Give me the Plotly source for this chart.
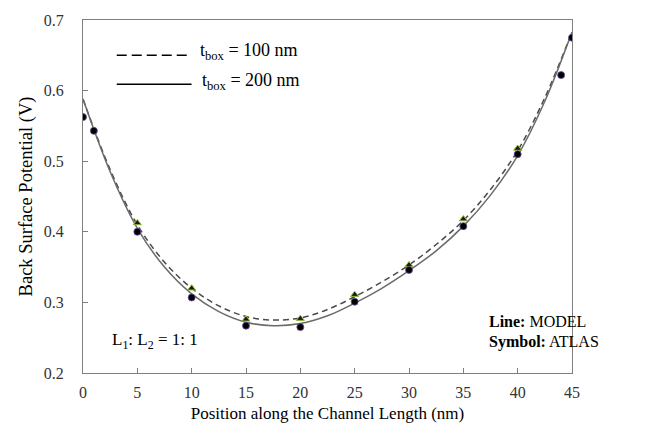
import plotly.graph_objects as go

# Model curves (lines)
x_model = [0, 2.5, 5, 7.5, 10, 12.5, 15, 17.5, 20, 22.5, 25, 27.5, 30, 32.5, 35, 37.5, 40, 42.5, 45]
model_100 = [0.588, 0.488, 0.410, 0.357, 0.320, 0.295, 0.280, 0.275, 0.278, 0.290, 0.308, 0.329,
             0.353, 0.382, 0.416, 0.460, 0.515, 0.590, 0.683]
model_200 = [0.588, 0.485, 0.405, 0.350, 0.312, 0.287, 0.272, 0.267, 0.270, 0.281, 0.299, 0.320,
             0.345, 0.373, 0.408, 0.452, 0.508, 0.585, 0.683]

# ATLAS symbols
x_atlas_100 = [5, 10, 15, 20, 25, 30, 35, 40]
atlas_100 = [0.4125, 0.320, 0.276, 0.277, 0.311, 0.353, 0.418, 0.518]
x_atlas_200 = [0, 1, 5, 10, 15, 20, 25, 30, 35, 40, 44, 45]
atlas_200 = [0.5625, 0.543, 0.400, 0.307, 0.267, 0.265, 0.301, 0.346, 0.408, 0.510, 0.622, 0.675]

x_ticks = [0, 5, 10, 15, 20, 25, 30, 35, 40, 45]
y_ticks = [0.2, 0.3, 0.4, 0.5, 0.6, 0.7]

serif = "Liberation Serif, Times New Roman, serif"

fig = go.Figure()
fig.add_trace(go.Scatter(x=x_model, y=model_100, mode="lines", line_shape="spline",
                         line=dict(color="#4a4a4a", width=1.5, dash="6px,4px"), showlegend=False))
fig.add_trace(go.Scatter(x=x_model, y=model_200, mode="lines", line_shape="spline",
                         line=dict(color="#6a6a6a", width=1.5), showlegend=False))
fig.add_trace(go.Scatter(x=x_atlas_100, y=atlas_100, mode="markers",
                         marker=dict(symbol="triangle-up", size=7, color="#1a1a1a",
                                     line=dict(color="#8fbf2f", width=1)), showlegend=False))
fig.add_trace(go.Scatter(x=x_atlas_200, y=atlas_200, mode="markers",
                         marker=dict(symbol="circle", size=7, color="#000000",
                                     line=dict(color="#6a4a9a", width=0.8)), showlegend=False))

# Custom legend lines (paper coordinates)
fig.add_shape(type="line", xref="paper", yref="paper", x0=0.069, x1=0.218, y0=0.9, y1=0.9,
              line=dict(color="#000000", width=1.6, dash="10px,5px"))
fig.add_shape(type="line", xref="paper", yref="paper", x0=0.069, x1=0.222, y0=0.818, y1=0.818,
              line=dict(color="#000000", width=1.6))
fig.add_annotation(xref="paper", yref="paper", x=0.235, y=0.91, xanchor="left", yanchor="middle",
                   text="t<sub>box</sub> = 100 nm", showarrow=False,
                   font=dict(family=serif, size=18, color="#000"))
fig.add_annotation(xref="paper", yref="paper", x=0.24, y=0.827, xanchor="left", yanchor="middle",
                   text="t<sub>box</sub> = 200 nm", showarrow=False,
                   font=dict(family=serif, size=18, color="#000"))
fig.add_annotation(xref="paper", yref="paper", x=0.056, y=0.09, xanchor="left", yanchor="middle",
                   text="L<sub>1</sub>: L<sub>2</sub> = 1: 1", showarrow=False,
                   font=dict(family=serif, size=17, color="#000"))
fig.add_annotation(xref="paper", yref="paper", x=0.826, y=0.145, xanchor="left", yanchor="middle",
                   text="<b>Line:</b> MODEL", showarrow=False,
                   font=dict(family=serif, size=16, color="#000"))
fig.add_annotation(xref="paper", yref="paper", x=0.826, y=0.088, xanchor="left", yanchor="middle",
                   text="<b>Symbol:</b> ATLAS", showarrow=False,
                   font=dict(family=serif, size=16, color="#000"))

axis_common = dict(showline=True, linecolor="#7f7f7f", linewidth=1.3, mirror=True,
                   showgrid=False, zeroline=False, ticks="inside", ticklen=5,
                   tickcolor="#7f7f7f", tickwidth=1,
                   tickfont=dict(family=serif, size=16, color="#333333"))

fig.update_xaxes(range=[0, 45], tickvals=x_ticks, ticktext=[str(v) for v in x_ticks],
                 ticklabelstandoff=5,
                 title=dict(text="Position along the Channel Length (nm)", standoff=6,
                            font=dict(family=serif, size=17, color="#000")),
                 **axis_common)
fig.update_yaxes(range=[0.2, 0.7], tickvals=y_ticks, ticktext=[f"{v:.1f}" for v in y_ticks],
                 ticklabelstandoff=15,
                 title=dict(text="Back Surface Potential (V)", standoff=6,
                            font=dict(family=serif, size=18.5, color="#000")),
                 **axis_common)

fig.update_layout(width=666, height=434, margin=dict(l=83, r=94, t=13, b=61),
                  plot_bgcolor="white", paper_bgcolor="white")

fig.write_html("out.html")
